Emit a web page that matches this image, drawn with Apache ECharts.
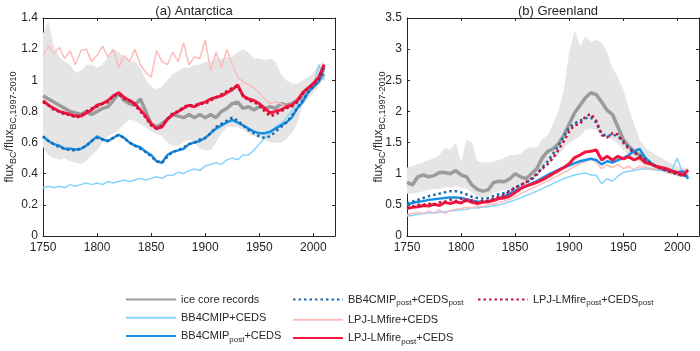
<!DOCTYPE html>
<html>
<head>
<meta charset="utf-8">
<script src="https://cdn.jsdelivr.net/npm/echarts@6/dist/echarts.min.js"></script>
<style>
  html, body { margin: 0; padding: 0; background: #fff; }
  #chart { width: 700px; height: 351px; }
</style>
</head>
<body>
<div id="chart"></div>
<script>
  // years shared by every series (5-year steps)
  var years = [1750,1755,1760,1765,1770,1775,1780,1785,1790,1795,
    1800,1805,1810,1815,1820,1825,1830,1835,1840,1845,
    1850,1855,1860,1865,1870,1875,1880,1885,1890,1895,
    1900,1905,1910,1915,1920,1925,1930,1935,1940,1945,
    1950,1955,1960,1965,1970,1975,1980,1985,1990,1995,
    2000,2005,2010];

  // ---- (a) Antarctica ----
  var antBandLo = [0.57,0.52,0.50,0.49,0.50,0.48,0.47,0.46,0.48,0.52,
    0.55,0.60,0.64,0.66,0.68,0.72,0.75,0.74,0.72,0.70,
    0.67,0.66,0.64,0.60,0.58,0.58,0.60,0.62,0.60,0.56,
    0.55,0.55,0.60,0.66,0.70,0.70,0.70,0.68,0.66,0.64,
    0.63,0.62,0.60,0.60,0.60,0.62,0.66,0.72,0.84,0.88,
    0.92,0.96,1.02];
  var antBandHi = [1.30,1.38,1.22,1.15,1.12,1.10,1.05,1.06,1.10,1.10,
    1.08,1.10,1.15,1.20,1.18,1.15,1.12,1.12,1.08,1.00,
    0.96,0.94,0.96,1.00,1.04,1.06,1.08,1.08,1.10,1.10,
    1.12,1.12,1.14,1.14,1.15,1.15,1.18,1.20,1.18,1.14,
    1.14,1.13,1.14,1.12,1.04,1.00,0.98,0.98,1.00,1.02,
    1.05,1.10,1.12];
  var antIce = [0.90,0.88,0.86,0.84,0.82,0.80,0.79,0.78,0.80,0.78,
    0.80,0.82,0.83,0.87,0.92,0.87,0.85,0.84,0.88,0.80,
    0.72,0.70,0.72,0.75,0.78,0.77,0.76,0.78,0.76,0.78,
    0.76,0.78,0.76,0.80,0.82,0.85,0.86,0.82,0.83,0.81,
    0.83,0.82,0.83,0.82,0.85,0.84,0.85,0.87,0.90,0.93,
    0.96,1.00,1.04];
  var antBB = [0.31,0.32,0.31,0.32,0.31,0.33,0.32,0.33,0.34,0.33,
    0.34,0.33,0.35,0.34,0.35,0.36,0.35,0.36,0.37,0.36,
    0.37,0.38,0.37,0.39,0.39,0.41,0.40,0.42,0.43,0.42,
    0.45,0.46,0.47,0.46,0.49,0.50,0.49,0.52,0.52,0.55,
    0.59,0.63,0.66,0.70,0.72,0.76,0.80,0.85,0.88,0.94,
    0.96,1.10,1.00];
  var antBBpost = [0.64,0.61,0.59,0.58,0.56,0.56,0.555,0.56,0.58,0.61,
    0.64,0.62,0.61,0.63,0.65,0.63,0.60,0.58,0.57,0.54,
    0.52,0.48,0.47,0.52,0.54,0.55,0.56,0.59,0.60,0.61,
    0.63,0.66,0.69,0.71,0.73,0.745,0.73,0.71,0.69,0.67,
    0.66,0.66,0.67,0.69,0.71,0.73,0.76,0.82,0.86,0.92,
    0.96,0.99,1.08];
  var antBBpostPost = [0.64,0.61,0.59,0.57,0.56,0.55,0.55,0.56,0.58,0.61,
    0.63,0.62,0.61,0.63,0.65,0.63,0.60,0.58,0.56,0.54,
    0.51,0.48,0.47,0.51,0.54,0.55,0.57,0.59,0.60,0.62,
    0.63,0.66,0.70,0.72,0.74,0.76,0.74,0.71,0.68,0.66,
    0.64,0.63,0.64,0.67,0.70,0.73,0.77,0.82,0.87,0.92,
    0.96,1.00,1.06];
  var antLPJ = [1.16,1.22,1.17,1.21,1.14,1.19,1.10,1.19,1.20,1.12,
    1.16,1.22,1.15,1.20,1.08,1.16,1.12,1.20,1.10,1.05,
    1.02,1.19,1.12,1.10,1.18,1.12,1.24,1.10,1.15,1.14,
    1.26,1.06,1.18,1.08,1.20,1.10,1.02,0.99,0.97,0.95,
    0.92,0.88,0.85,0.86,0.85,0.83,0.84,0.87,0.91,0.95,
    0.97,1.01,1.09];
  var antLPJpost = [0.87,0.84,0.82,0.80,0.79,0.78,0.77,0.77,0.79,0.81,
    0.84,0.85,0.87,0.90,0.92,0.89,0.87,0.85,0.81,0.77,
    0.72,0.69,0.70,0.75,0.78,0.80,0.82,0.84,0.83,0.85,
    0.86,0.88,0.89,0.90,0.92,0.94,0.97,0.90,0.88,0.87,
    0.85,0.82,0.79,0.80,0.81,0.83,0.84,0.87,0.92,0.95,
    0.98,1.02,1.10];
  var antLPJpostPost = [0.86,0.84,0.81,0.80,0.78,0.78,0.76,0.77,0.80,0.82,
    0.83,0.85,0.86,0.90,0.91,0.88,0.87,0.84,0.80,0.76,
    0.71,0.69,0.71,0.75,0.79,0.80,0.83,0.84,0.84,0.85,
    0.85,0.87,0.89,0.91,0.93,0.95,0.96,0.90,0.87,0.86,
    0.84,0.80,0.77,0.78,0.80,0.82,0.83,0.86,0.91,0.95,
    0.97,1.01,1.09];

  // ---- (b) Greenland ----
  var grnBandLo = [0.68,0.68,0.70,0.72,0.74,0.75,0.76,0.78,0.78,0.80,
    0.78,0.76,0.70,0.64,0.62,0.64,0.68,0.72,0.74,0.76,
    0.82,0.85,0.86,0.90,0.98,1.08,1.15,1.22,1.30,1.40,
    1.50,1.55,1.60,1.70,1.72,1.70,1.62,1.58,1.55,1.48,
    1.38,1.30,1.24,1.18,1.12,1.08,1.05,1.03,1.00,0.98,
    0.96,0.94,0.94];
  var grnBandHi = [1.10,1.12,1.15,1.18,1.22,1.25,1.30,1.42,1.38,1.50,
    1.18,1.55,1.50,1.20,1.18,1.18,1.20,1.22,1.25,1.30,
    1.30,1.32,1.40,1.42,1.42,1.55,1.62,1.80,2.00,2.35,
    2.95,3.30,3.05,3.20,3.12,3.15,3.10,2.95,2.70,2.55,
    2.35,2.05,1.80,1.55,1.42,1.36,1.30,1.26,1.20,1.16,
    1.12,1.10,1.08];
  var grnIce = [0.86,0.82,0.95,0.98,0.95,0.97,1.02,1.02,1.00,1.05,
    0.98,0.95,0.82,0.75,0.72,0.74,0.86,0.88,0.87,0.92,
    1.00,0.95,0.92,1.00,1.08,1.25,1.36,1.40,1.48,1.62,
    1.80,1.98,2.10,2.22,2.30,2.27,2.15,2.02,1.95,1.75,
    1.55,1.44,1.36,1.30,1.22,1.16,1.12,1.09,1.06,1.03,
    1.00,0.98,0.98];
  var grnBB = [0.32,0.33,0.35,0.36,0.37,0.37,0.38,0.39,0.40,0.41,
    0.42,0.43,0.45,0.45,0.46,0.47,0.48,0.50,0.52,0.55,
    0.58,0.61,0.65,0.68,0.72,0.76,0.80,0.84,0.88,0.92,
    0.95,0.98,1.00,1.01,0.98,0.97,0.84,0.92,0.88,0.96,
    1.02,1.04,1.05,1.07,1.08,1.07,1.06,1.05,1.05,1.06,
    1.25,1.00,0.95];
  var grnBBpost = [0.50,0.53,0.55,0.56,0.58,0.59,0.60,0.61,0.62,0.62,
    0.61,0.59,0.57,0.55,0.55,0.56,0.58,0.61,0.64,0.68,
    0.73,0.77,0.80,0.84,0.88,0.93,0.98,1.02,1.06,1.10,
    1.13,1.17,1.20,1.22,1.24,1.22,1.15,1.20,1.18,1.22,
    1.25,1.30,1.36,1.40,1.26,1.18,1.12,1.08,1.06,1.05,
    1.02,1.04,0.92];
  var grnBBpostPost = [0.52,0.55,0.58,0.61,0.64,0.66,0.68,0.70,0.72,0.72,
    0.70,0.67,0.63,0.61,0.60,0.61,0.64,0.67,0.69,0.73,
    0.78,0.82,0.86,0.90,0.98,1.10,1.20,1.32,1.45,1.60,
    1.74,1.81,1.85,1.89,1.90,1.82,1.64,1.60,1.63,1.60,
    1.52,1.42,1.35,1.30,1.24,1.18,1.12,1.08,1.05,1.02,
    1.00,0.98,0.95];
  var grnLPJ = [0.34,0.36,0.38,0.36,0.40,0.37,0.42,0.36,0.41,0.43,
    0.44,0.46,0.45,0.48,0.47,0.50,0.51,0.54,0.56,0.59,
    0.63,0.68,0.72,0.76,0.80,0.84,0.88,0.93,0.97,1.02,
    1.06,1.12,1.16,1.20,1.24,1.18,1.08,1.14,1.10,1.15,
    1.08,1.12,1.06,1.12,1.10,1.08,1.08,1.06,1.05,1.03,
    1.00,0.98,1.00];
  var grnLPJpost = [0.44,0.46,0.47,0.49,0.48,0.51,0.49,0.54,0.52,0.55,
    0.53,0.58,0.54,0.52,0.54,0.55,0.57,0.60,0.61,0.64,
    0.70,0.76,0.80,0.83,0.86,0.90,0.95,1.00,1.05,1.10,
    1.16,1.26,1.30,1.35,1.36,1.38,1.22,1.28,1.22,1.28,
    1.24,1.27,1.22,1.26,1.18,1.16,1.12,1.10,1.08,1.04,
    1.02,0.98,1.06];
  var grnLPJpostPost = [0.45,0.47,0.50,0.50,0.52,0.50,0.54,0.55,0.58,0.56,
    0.60,0.56,0.57,0.54,0.56,0.57,0.60,0.63,0.66,0.72,
    0.78,0.82,0.86,0.92,1.00,1.08,1.15,1.25,1.38,1.52,
    1.68,1.78,1.80,1.92,1.96,1.85,1.62,1.58,1.65,1.63,
    1.50,1.40,1.34,1.28,1.22,1.16,1.12,1.08,1.05,1.02,
    1.00,0.96,1.02];

  // axis ticks
  var xTicks = { min: 1750, max: 2020, interval: 50 };
  var yTicksA = { min: 0, max: 1.4, interval: 0.2 };
  var yTicksB = { min: 0, max: 3.5, interval: 0.5 };

  var names = {
    ice: 'ice core records',
    bb: 'BB4CMIP+CEDS',
    bbPost: 'BB4CMIP_post+CEDS',
    bbPostPost: 'BB4CMIP_post+CEDS_post',
    lpj: 'LPJ-LMfire+CEDS',
    lpjPost: 'LPJ-LMfire_post+CEDS',
    lpjPostPost: 'LPJ-LMfire_post+CEDS_post'
  };
  var richNames = {};
  richNames[names.ice] = '{n|ice core records}';
  richNames[names.bb] = '{n|BB4CMIP+CEDS}';
  richNames[names.bbPost] = '{n|BB4CMIP}{s|post}{n|+CEDS}';
  richNames[names.bbPostPost] = '{n|BB4CMIP}{s|post}{n|+CEDS}{s|post}';
  richNames[names.lpj] = '{n|LPJ-LMfire+CEDS}';
  richNames[names.lpjPost] = '{n|LPJ-LMfire}{s|post}{n|+CEDS}';
  richNames[names.lpjPostPost] = '{n|LPJ-LMfire}{s|post}{n|+CEDS}{s|post}';

  var FONT = '"Liberation Sans", Arial, Helvetica, sans-serif';
  var txt = '#262626';
  var colors = {
    band: '#e5e5e5',
    ice: '#9b9b9b',
    bb: '#86d3fb',
    bbPost: '#1590e6',
    bbPostPost: '#1b68ac',
    lpj: '#fdbcbc',
    lpjPost: '#f7133f',
    lpjPostPost: '#c0153c'
  };

  function pairs(vals) {
    return years.map(function (y, i) { return [y, vals[i]]; });
  }

  var rich = {
    n: { fontSize: 11, fontFamily: FONT, color: txt, lineHeight: 15 },
    s: { fontSize: 8, fontFamily: FONT, color: txt, lineHeight: 15, verticalAlign: 'bottom' }
  };
  var nameRich = {
    n: { fontSize: 12, fontFamily: FONT, color: txt, lineHeight: 16 },
    s: { fontSize: 9, fontFamily: FONT, color: txt, lineHeight: 16, verticalAlign: 'bottom' }
  };

  function xAxes(gridIndex) {
    return [{
      gridIndex: gridIndex,
      type: 'value',
      position: 'bottom',
      min: xTicks.min, max: xTicks.max, interval: xTicks.interval,
      axisLine: { show: true, onZero: false, lineStyle: { color: txt, width: 1 } },
      axisTick: { show: true, inside: true, length: 3, lineStyle: { color: txt } },
      axisLabel: {
        color: txt, fontSize: 12, fontFamily: FONT, margin: 6, showMaxLabel: false,
        formatter: function (v) { return String(v); }
      },
      splitLine: { show: false }
    }, {
      gridIndex: gridIndex,
      type: 'value',
      position: 'top',
      min: xTicks.min, max: xTicks.max, interval: xTicks.interval,
      axisLine: { show: true, onZero: false, lineStyle: { color: txt, width: 1 } },
      axisTick: { show: true, inside: true, length: 3, lineStyle: { color: txt } },
      axisLabel: { show: false },
      splitLine: { show: false }
    }];
  }
  function yAxes(gridIndex, t, gap) {
    return [{
      gridIndex: gridIndex,
      type: 'value',
      position: 'left',
      min: t.min, max: t.max, interval: t.interval,
      name: '{n|flux}{s|BC}{n|/flux}{s|BC,1997-2010}',
      nameLocation: 'middle',
      nameRotate: 90,
      nameGap: gap,
      nameMoveOverlap: false,
      nameTextStyle: { rich: nameRich },
      axisLine: { show: true, onZero: false, lineStyle: { color: txt, width: 1 } },
      axisTick: { show: true, inside: true, length: 3, lineStyle: { color: txt } },
      axisLabel: { color: txt, fontSize: 12, fontFamily: FONT, margin: 5 },
      splitLine: { show: false }
    }, {
      gridIndex: gridIndex,
      type: 'value',
      position: 'right',
      min: t.min, max: t.max, interval: t.interval,
      axisLine: { show: true, onZero: false, lineStyle: { color: txt, width: 1 } },
      axisTick: { show: true, inside: true, length: 3, lineStyle: { color: txt } },
      axisLabel: { show: false },
      splitLine: { show: false }
    }];
  }

  function line(name, vals, color, width, xi, dotted) {
    return {
      name: name,
      type: 'line',
      xAxisIndex: xi, yAxisIndex: xi,
      symbol: 'none',
      lineStyle: { color: color, width: width, type: dotted ? [2.5, 3] : 'solid' },
      itemStyle: { color: color },
      data: pairs(vals)
    };
  }

  // ice core min-max range as one filled polygon
  function band(lo, hi, xi) {
    return {
      type: 'custom',
      xAxisIndex: xi, yAxisIndex: xi,
      clip: true,
      silent: true,
      encode: { x: 0, y: [1, 2] },
      data: years.map(function (y, i) { return [y, lo[i], hi[i]]; }),
      renderItem: function (params, api) {
        if (params.dataIndex !== 0) return;
        var pts = [];
        for (var i = 0; i < years.length; i++) pts.push(api.coord([years[i], hi[i]]));
        for (var j = years.length - 1; j >= 0; j--) pts.push(api.coord([years[j], lo[j]]));
        return { type: 'polygon', shape: { points: pts }, style: { fill: colors.band } };
      }
    };
  }

  function panel(xi, d) {
    return [
      band(d.lo, d.hi, xi),
      line(names.ice, d.ice, colors.ice, 3.5, xi),
      line(names.bb, d.bb, colors.bb, 1.5, xi),
      line(names.lpj, d.lpj, colors.lpj, 1.5, xi),
      line(names.bbPost, d.bbPost, colors.bbPost, 2.5, xi),
      line(names.bbPostPost, d.bbPostPost, colors.bbPostPost, 2.5, xi, true),
      line(names.lpjPost, d.lpjPost, colors.lpjPost, 3, xi),
      line(names.lpjPostPost, d.lpjPostPost, colors.lpjPostPost, 2.5, xi, true)
    ];
  }

  function legend(left, top, data) {
    return {
      orient: 'vertical',
      left: left, top: top,
      itemWidth: 50, itemHeight: 14, itemGap: 7,
      selectedMode: false,
      itemStyle: { opacity: 0 },
      data: data,
      formatter: function (n) { return richNames[n]; },
      textStyle: { rich: rich }
    };
  }

  var chart = echarts.init(document.getElementById('chart'));
  chart.setOption({
    animation: false,
    backgroundColor: '#fff',
    title: [{
      text: '(a) Antarctica', left: 189, top: 0, textAlign: 'center',
      textStyle: { fontSize: 13, fontWeight: 'normal', color: txt, fontFamily: FONT }
    }, {
      text: '(b) Greenland', left: 553, top: 0, textAlign: 'center',
      textStyle: { fontSize: 13, fontWeight: 'normal', color: txt, fontFamily: FONT }
    }],
    grid: [
      { left: 43, top: 18, width: 292, height: 218 },
      { left: 407, top: 18, width: 292, height: 218 }
    ],
    xAxis: [].concat(xAxes(0), xAxes(1)),
    yAxis: [].concat(yAxes(0, yTicksA, 25), yAxes(1, yTicksB, 20)),
    legend: [
      legend(120, 289, [names.ice, names.bb, names.bbPost]),
      legend(287, 289, [names.bbPostPost, names.lpj, names.lpjPost]),
      legend(472, 289, [names.lpjPostPost])
    ],
    series: [].concat(
      panel(0, { lo: antBandLo, hi: antBandHi, ice: antIce, bb: antBB, bbPost: antBBpost,
        bbPostPost: antBBpostPost, lpj: antLPJ, lpjPost: antLPJpost, lpjPostPost: antLPJpostPost }),
      panel(2, { lo: grnBandLo, hi: grnBandHi, ice: grnIce, bb: grnBB, bbPost: grnBBpost,
        bbPostPost: grnBBpostPost, lpj: grnLPJ, lpjPost: grnLPJpost, lpjPostPost: grnLPJpostPost })
    )
  });
</script>
</body>
</html>
